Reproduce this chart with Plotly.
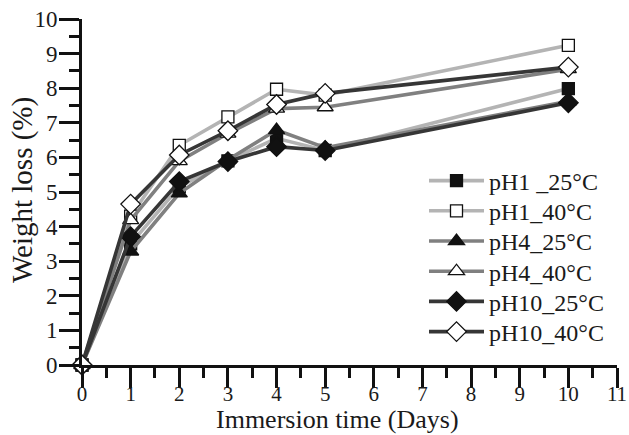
import plotly.graph_objects as go

days = [0, 1, 2, 3, 4, 5, 10]
series_names = ["pH1 _25°C", "pH1_40°C", "pH4_25°C", "pH4_40°C", "pH10_25°C", "pH10_40°C"]
pH1_25 = [0, 3.5, 5.15, 5.9, 6.55, 6.2, 7.99]
pH1_40 = [0, 4.3, 6.35, 7.17, 7.97, 7.8, 9.24]
pH4_25 = [0, 3.28, 4.96, 5.93, 6.79, 6.28, 7.62]
pH4_40 = [0, 4.19, 5.89, 6.69, 7.41, 7.45, 8.55]
pH10_25 = [0, 3.71, 5.3, 5.88, 6.31, 6.2, 7.58]
pH10_40 = [0, 4.65, 6.07, 6.77, 7.53, 7.85, 8.61]

values = [pH1_25, pH1_40, pH4_25, pH4_40, pH10_25, pH10_40]
line_colors = ["#b4b4b4", "#b4b4b4", "#808080", "#808080", "#363636", "#363636"]
symbols = ["square", "square", "triangle-up", "triangle-up", "diamond", "diamond"]
fills = ["#111111", "#ffffff", "#111111", "#ffffff", "#111111", "#ffffff"]
sizes = [12, 12, 14, 14, 15, 15]

font_family = "Liberation Serif"
L, R, T, B = 82, 12, 19, 70
W, H = 629, 435
pw, ph = W - L - R, H - T - B

legend_names = ["legend"] + ["legend%d" % i for i in range(2, 7)]
legend_row_px = [181.0, 211.2, 241.4, 271.6, 301.8, 332.0]

fig = go.Figure()
for name, vals, lc, sym, fc, sz, lg in zip(series_names, values, line_colors, symbols, fills, sizes, legend_names):
    fig.add_trace(go.Scatter(
        x=days, y=vals, name=name, mode="lines+markers",
        line=dict(color=lc, width=3.6),
        marker=dict(symbol=sym, size=sz, color=fc, line=dict(color="#111111", width=1.3)),
        cliponaxis=False, legend=lg,
    ))

legend_x = (424 - L) / pw
legend_layouts = {}
for lg, ypx in zip(legend_names, legend_row_px):
    legend_layouts[lg] = dict(
        x=legend_x, y=(T + ph - ypx) / ph, xanchor="left", yanchor="middle",
        font=dict(family=font_family, size=24, color="#1a1a1a"),
        bgcolor="rgba(0,0,0,0)", itemwidth=55, borderwidth=0,
    )

fig.update_layout(
    width=W, height=H,
    margin=dict(l=L, r=R, t=T, b=B),
    paper_bgcolor="#ffffff", plot_bgcolor="#ffffff",
    font=dict(family=font_family, size=23, color="#1a1a1a"),
    showlegend=True,
    **legend_layouts,
    xaxis=dict(range=[0, 11], dtick=1, tick0=0, showgrid=False, zeroline=False,
               showline=True, linecolor="#111111", linewidth=3, automargin=False,
               ticks="outside", ticklen=20, tickwidth=3, tickcolor="#111111",
               ticklabelstandoff=-12,
               minor=dict(dtick=0.5, ticks="outside", ticklen=10, tickwidth=3, tickcolor="#111111", showgrid=False),
               tickfont=dict(family=font_family, size=21)),
    yaxis=dict(range=[0, 10], dtick=1, tick0=0, showgrid=False, zeroline=False,
               showline=True, linecolor="#111111", linewidth=3, automargin=False,
               ticks="outside", ticklen=20, tickwidth=3, tickcolor="#111111",
               ticklabelstandoff=-3,
               minor=dict(dtick=0.5, ticks="outside", ticklen=10, tickwidth=3, tickcolor="#111111", showgrid=False),
               tickfont=dict(family=font_family, size=23)),
    annotations=[
        dict(text="Immersion time (Days)", xref="paper", yref="paper",
             x=(337 - L) / pw, y=(T + ph - 419) / ph, xanchor="center", yanchor="middle",
             showarrow=False, font=dict(family=font_family, size=26, color="#1a1a1a")),
        dict(text="Weight loss (%)", xref="paper", yref="paper", textangle=-90,
             x=(23 - L) / pw, y=(T + ph - 190) / ph, xanchor="center", yanchor="middle",
             showarrow=False, font=dict(family=font_family, size=29, color="#1a1a1a")),
    ],
)

fig.write_html("out.html")
